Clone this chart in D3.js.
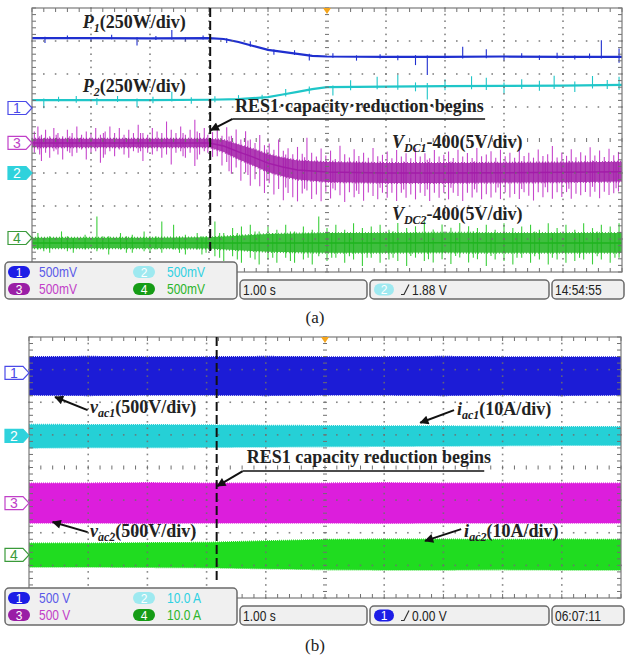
<!DOCTYPE html>
<html>
<head>
<meta charset="utf-8">
<script src="https://cdn.jsdelivr.net/npm/d3@7"></script>
<style>
  body { margin: 0; background: #fff; }
  svg { display: block; }
</style>
</head>
<body>
<div id="chart"></div>
<script>
// Two oscilloscope captures, time axis 1.00 s/div (10 div), vertical 8 div
var W = 629, H = 656;
var timeDomain = [0, 10];
var divDomain = [-4, 4];

// ---------- panel (a) data : time in s, level in divisions from screen centre ----------
var eventTimeA = 3.02;

var p1Time  = [0, 1, 2, 3, 3.25, 3.5, 3.75, 4, 4.25, 4.5, 4.75, 5, 6, 7, 8, 9, 10];
var p1Level = [3.09, 3.09, 3.08, 3.09, 3.06, 2.97, 2.85, 2.73, 2.67, 2.61, 2.55, 2.53, 2.52, 2.52, 2.53, 2.52, 2.52];
// spikes: [time, up, down] in divisions relative to the level
var p1Spikes = [[0.22,0.04,0.15],[0.6,0.08,0.04],[1.0,0.03,0.1],[1.35,0.1,0.03],[1.78,0.03,0.22],[2.1,0.07,0.05],
  [2.37,0.25,0.04],[2.6,0.03,0.1],[2.9,0.08,0.04],[3.3,0.04,0.1],[3.7,0.12,0.05],[4.1,0.04,0.12],[4.45,0.1,0.05],
  [4.7,0.05,0.15],[5.1,0.1,0.04],[5.5,0.04,0.12],[5.9,0.08,0.05],[6.2,0.04,0.1],[6.5,0.05,0.25],[6.7,0.04,0.55],
  [7.0,0.1,0.04],[7.3,0.3,0.05],[7.7,0.22,0.05],[8.0,0.04,0.12],[8.3,0.1,0.04],[8.6,0.04,0.1],[8.9,0.12,0.05],
  [9.2,0.04,0.08],[9.45,0.1,0.05],[9.65,0.5,0.05],[9.95,0.25,0.18]];

var p2Time  = [0, 1, 2, 3, 3.5, 4, 4.25, 4.5, 4.75, 5, 6, 7, 8, 9, 10];
var p2Level = [1.21, 1.21, 1.21, 1.22, 1.24, 1.30, 1.38, 1.46, 1.54, 1.60, 1.62, 1.63, 1.64, 1.65, 1.67];
var p2Spikes = [[0.2,0.05,0.25],[0.45,0.1,0.05],[0.75,0.12,0.08],[1.1,0.06,0.15],[1.45,0.12,0.06],[1.78,0.05,0.22],
  [2.05,0.1,0.1],[2.37,0.25,0.05],[2.7,0.08,0.12],[3.1,0.1,0.08],[3.5,0.12,0.1],[3.9,0.08,0.15],[4.3,0.15,0.08],
  [4.7,0.1,0.12],[5.1,0.05,0.25],[5.4,0.2,0.1],[5.85,0.3,0.08],[6.2,0.35,0.1],[6.5,0.12,0.15],[6.7,0.1,0.4],
  [7.0,0.2,0.12],[7.45,0.3,0.1],[7.7,0.25,0.12],[8.0,0.1,0.22],[8.3,0.2,0.1],[8.6,0.15,0.15],[8.85,0.3,0.1],
  [9.2,0.12,0.2],[9.5,0.28,0.1],[9.75,0.15,0.12],[9.95,0.25,0.15]];

var vdc1Time  = [0, 1, 2, 3, 3.25, 3.5, 3.75, 4, 4.25, 4.5, 5, 6, 7, 8, 9, 10];
var vdc1Level = [-0.09, -0.09, -0.09, -0.09, -0.18, -0.36, -0.52, -0.70, -0.82, -0.91, -0.97, -1.0, -1.0, -0.99, -0.98, -0.96];
var vdc1Band  = [0.13, 0.13, 0.13, 0.13, 0.18, 0.22, 0.25, 0.27, 0.28, 0.29, 0.3, 0.3, 0.3, 0.3, 0.3, 0.3];
var vdc1Spikes = [[0.04,0.35,0.3],[0.1,0.5,0.2],[0.13,0.2,0.35],[0.16,0.25,0.55],[0.23,0.4,0.3],[0.3,0.2,0.45],[0.37,0.45,0.25],
  [0.41,0.25,0.2],[0.44,0.3,0.35],[0.52,0.2,0.5],[0.6,0.4,0.25],[0.64,0.2,0.3],[0.68,0.3,0.4],[0.76,0.5,0.3],[0.84,0.25,0.2],[0.92,0.35,0.5],
  [1.0,0.3,0.3],[1.08,0.45,0.25],[1.16,0.25,0.6],[1.21,0.3,0.45],[1.24,0.35,0.35],[1.32,0.5,0.25],[1.4,0.3,0.4],[1.48,0.45,0.2],
  [1.56,0.25,0.35],[1.64,0.4,0.45],[1.72,0.3,0.25],[1.8,0.55,0.3],[1.84,0.3,0.25],[1.88,0.3,0.55],[1.96,0.25,0.3],[2.04,0.45,0.35],
  [2.12,0.35,0.25],[2.2,0.3,0.45],[2.28,0.65,0.35],[2.36,0.4,0.65],[2.44,0.3,0.3],[2.52,0.5,0.25],[2.56,0.3,0.4],[2.6,0.25,0.45],
  [2.68,0.4,0.3],[2.76,0.7,0.7],[2.8,0.35,0.5],[2.84,0.3,0.35],[2.92,0.45,0.25],[2.98,0.25,0.3],
  [3.06,0.35,0.4],[3.14,0.5,0.35],[3.22,0.3,0.6],[3.3,0.6,0.45],[3.34,0.35,0.7],[3.38,0.4,0.75],[3.46,0.65,0.5],[3.54,0.4,0.85],
  [3.62,0.7,0.55],[3.66,0.45,0.6],[3.7,0.5,0.9],[3.78,0.45,0.65],[3.86,0.75,0.8],[3.94,0.5,0.95],[3.98,0.4,0.55],[4.02,0.6,0.6],[4.1,0.45,0.9],
  [4.18,0.8,0.7],[4.26,0.5,1.0],[4.3,0.4,0.6],[4.34,0.6,0.75],[4.42,0.45,0.85],[4.5,0.7,0.95],[4.58,0.5,0.7],[4.62,0.4,0.55],[4.66,1.0,0.6],
  [4.74,0.55,0.85],[4.82,0.45,0.7],[4.9,0.7,0.9],[4.98,0.5,0.6],[5.06,0.65,0.8],[5.1,0.35,0.5],[5.14,0.4,0.55],[5.22,0.8,0.7],
  [5.3,0.55,0.9],[5.38,0.45,0.6],[5.46,0.7,0.75],[5.5,0.35,0.55],[5.54,0.5,0.65],[5.62,0.6,0.85],[5.7,0.45,0.6],[5.78,0.75,0.7],
  [5.86,0.5,0.8],[5.9,0.35,0.45],[5.94,0.55,0.6],[6.02,0.65,0.75],[6.1,0.45,0.6],[6.18,0.7,0.85],[6.26,0.5,0.6],[6.3,0.35,0.5],[6.34,0.6,0.75],
  [6.42,0.45,0.65],[6.5,0.75,0.8],[6.58,0.5,0.6],[6.66,0.6,0.7],[6.7,0.4,0.5],[6.74,0.45,0.85],[6.82,0.7,0.6],[6.9,0.5,0.75],
  [6.98,0.55,0.6],[7.06,0.65,0.8],[7.1,0.35,0.45],[7.14,0.45,0.6],[7.22,0.7,0.7],[7.3,0.5,0.85],[7.38,0.6,0.6],[7.46,0.45,0.75],
  [7.5,0.35,0.5],[7.54,0.75,0.6],[7.62,0.5,0.8],[7.7,0.55,0.65],[7.78,0.65,0.75],[7.86,0.45,0.6],[7.9,0.3,0.45],[7.94,0.7,0.8],[8.02,0.5,0.6],
  [8.1,0.6,0.75],[8.18,0.45,0.65],[8.26,0.75,0.8],[8.3,0.35,0.5],[8.34,0.5,0.6],[8.42,0.6,0.7],[8.5,0.45,0.85],[8.58,0.7,0.6],
  [8.66,0.5,0.75],[8.7,0.3,0.45],[8.74,0.55,0.6],[8.82,0.8,0.8],[8.9,0.45,0.6],[8.98,0.6,0.75],[9.06,0.5,0.6],[9.1,0.35,0.5],[9.14,0.7,0.8],
  [9.22,0.45,0.65],[9.3,0.6,0.7],[9.38,0.5,0.6],[9.46,0.75,0.75],[9.5,0.35,0.45],[9.54,0.5,0.6],[9.62,0.65,0.8],[9.7,0.45,0.6],
  [9.78,0.7,0.7],[9.86,0.5,0.65],[9.9,0.3,0.5],[9.94,0.6,0.6]];

var vdc2Time  = [0, 1, 2, 3, 3.5, 4, 5, 6, 7, 8, 9, 10];
var vdc2Level = [-3.12, -3.12, -3.12, -3.12, -3.12, -3.12, -3.12, -3.12, -3.11, -3.12, -3.12, -3.12];
var vdc2Band  = [0.16, 0.16, 0.16, 0.17, 0.22, 0.27, 0.3, 0.3, 0.3, 0.3, 0.3, 0.3];
var vdc2Spikes = [[0.1,0.3,0.2],[0.2,0.15,0.25],[0.3,0.2,0.3],[0.5,0.35,0.15],[0.6,0.2,0.25],[0.7,0.15,0.3],[0.9,0.25,0.2],[1.1,0.8,0.25],
  [1.2,0.2,0.2],[1.3,0.2,0.35],[1.5,0.3,0.2],[1.6,0.2,0.3],[1.7,0.25,0.3],[1.9,0.35,0.25],[2.0,0.2,0.3],[2.1,0.2,0.2],[2.2,0.65,0.3],[2.4,0.55,0.2],
  [2.5,0.2,0.3],[2.6,0.25,0.35],[2.8,0.3,0.2],[2.88,0.2,0.35],[2.95,0.2,0.3],
  [3.1,0.65,0.4],[3.18,0.3,0.45],[3.25,0.3,0.55],[3.4,0.45,0.4],[3.48,0.3,0.5],[3.55,0.5,0.6],[3.7,0.55,0.45],[3.78,0.35,0.5],[3.85,0.35,0.65],[4.0,0.5,0.5],
  [4.08,0.3,0.45],[4.15,0.4,0.6],[4.3,0.55,0.45],[4.38,0.35,0.55],[4.45,0.35,0.6],[4.6,0.5,0.5],[4.68,0.3,0.45],[4.75,0.4,0.65],[4.86,0.8,0.4],[5.0,0.45,0.55],
  [5.08,0.3,0.45],[5.15,0.55,0.45],[5.3,0.4,0.6],[5.38,0.3,0.4],[5.45,0.6,0.5],[5.6,0.45,0.7],[5.68,0.3,0.45],[5.75,0.5,0.45],[5.9,0.55,0.6],[6.05,0.4,0.5],
  [6.12,0.35,0.45],[6.2,0.6,0.55],[6.35,0.45,0.7],[6.42,0.3,0.4],[6.5,0.5,0.45],[6.65,0.65,0.55],[6.72,0.3,0.5],[6.8,0.4,0.6],[6.95,0.55,0.5],[7.1,0.45,0.65],
  [7.18,0.3,0.4],[7.25,0.6,0.45],[7.4,0.5,0.6],[7.48,0.35,0.45],[7.55,0.45,0.5],[7.7,0.55,0.7],[7.78,0.3,0.4],[7.85,0.4,0.5],[8.0,0.6,0.55],[8.15,0.45,0.65],
  [8.22,0.3,0.45],[8.3,0.5,0.45],[8.45,0.55,0.6],[8.52,0.35,0.4],[8.6,0.4,0.5],[8.75,0.6,0.65],[8.82,0.3,0.45],[8.9,0.45,0.5],[9.05,0.55,0.6],[9.2,0.4,0.55],
  [9.28,0.3,0.45],[9.35,0.6,0.5],[9.5,0.45,0.65],[9.58,0.35,0.4],[9.65,0.55,0.5],[9.8,0.5,0.6],[9.88,0.3,0.45],[9.95,0.6,0.45]];

var markerLevelsA = [0.97, -1.0, -0.09, -2.97]; // channel 1..4 ground markers
var scaleLabelsA = ["500mV", "500mV", "500mV", "500mV"];
var timebaseA = "1.00 s", triggerChA = 2, triggerLevelA = "1.88 V", clockA = "14:54:55";

// ---------- panel (b) data : envelopes of the AC waveforms ----------
var eventTimeB = 3.17;
var bTime = [0, 1, 2, 3, 4, 5, 6, 7, 8, 9, 10];
var vac1Top    = [3.39, 3.40, 3.39, 3.39, 3.40, 3.39, 3.39, 3.40, 3.39, 3.39, 3.39];
var vac1Bottom = [2.22, 2.21, 2.22, 2.22, 2.21, 2.22, 2.22, 2.21, 2.22, 2.21, 2.22];
var iac1Top    = [1.32, 1.31, 1.31, 1.30, 1.29, 1.28, 1.27, 1.27, 1.26, 1.25, 1.25];
var iac1Bottom = [0.60, 0.61, 0.61, 0.62, 0.63, 0.64, 0.65, 0.66, 0.67, 0.68, 0.68];
var vac2Top    = [-0.48, -0.48, -0.47, -0.48, -0.48, -0.48, -0.47, -0.48, -0.48, -0.48, -0.48];
var vac2Bottom = [-1.70, -1.70, -1.71, -1.70, -1.70, -1.70, -1.71, -1.70, -1.70, -1.70, -1.70];
var iac2Top    = [-2.32, -2.32, -2.31, -2.30, -2.25, -2.21, -2.20, -2.20, -2.21, -2.20, -2.21];
var iac2Bottom = [-3.05, -3.05, -3.06, -3.07, -3.10, -3.13, -3.14, -3.14, -3.13, -3.14, -3.14];

var markerLevelsB = [2.9, 0.97, -1.09, -2.68];
var scaleLabelsB = ["500 V", "10.0 A", "500 V", "10.0 A"];
var timebaseB = "1.00 s", triggerChB = 1, triggerLevelB = "0.00 V", clockB = "06:07:11";

// ---------- styles ----------
var badgeFill = { 1: "#1c1ce6", 2: "#9ee9f0", 3: "#9a1ea6", 4: "#169c16" };
var chanText  = { 1: "#5a5ae8", 2: "#2fd0e2", 3: "#c23ec8", 4: "#2bb52b" };
var markerColor = { 1: "#4a4ae8", 2: "#2fd2dc", 3: "#c040c8", 4: "#3a9a3a" };
var serif = "'Liberation Serif', 'Times New Roman', serif";
var sans = "'Liberation Sans', Arial, sans-serif";

var svg = d3.select("#chart").append("svg").attr("width", W).attr("height", H);
svg.append("rect").attr("width", W).attr("height", H).attr("fill", "#fff");

var defs = svg.append("defs");
defs.append("marker")
  .attr("id", "arrow")
  .attr("viewBox", "0 0 10 10")
  .attr("refX", 9).attr("refY", 5)
  .attr("markerWidth", 5.5).attr("markerHeight", 4.5)
  .attr("orient", "auto")
  .append("path").attr("d", "M0,0 L10,5 L0,10 z").attr("fill", "#111");

var panelA = { id: "a", left: 32, right: 622, top: 8, bottom: 272 };
var panelB = { id: "b", left: 29, right: 621, top: 337, bottom: 598 };

function scalesFor(p) {
  return {
    x: d3.scaleLinear().domain(timeDomain).range([p.left, p.right]),
    y: d3.scaleLinear().domain(divDomain).range([p.bottom, p.top])
  };
}
var sA = scalesFor(panelA), sB = scalesFor(panelB);

function clipFor(p) {
  defs.append("clipPath").attr("id", "clip-" + p.id)
    .append("rect").attr("x", p.left).attr("y", p.top)
    .attr("width", p.right - p.left).attr("height", p.bottom - p.top);
  return "url(#clip-" + p.id + ")";
}

// narrow scope font: regular sans squeezed horizontally
function condText(g, x, y, str, color, size) {
  return g.append("text")
    .attr("transform", "translate(" + x + "," + y + ") scale(0.8,1)")
    .attr("font-family", sans).attr("font-size", size || 14).attr("fill", color).text(str);
}

// graticule: dotted division lines, centre cross ticks, border ticks
function drawGrid(g, s) {
  var x = s.x, y = s.y;
  var minorT = d3.range(0, 10.001, 0.2);
  var minorD = d3.range(-4, 4.001, 0.2);
  var dots = [];
  [1, 2, 3, 4, 6, 7, 8, 9].forEach(function (t) {
    minorD.forEach(function (d) { dots.push([x(t), y(d)]); });
  });
  [-3, -2, -1, 1, 2, 3].forEach(function (d) {
    minorT.forEach(function (t) { dots.push([x(t), y(d)]); });
  });
  g.append("g").selectAll("rect").data(dots).enter().append("rect")
    .attr("x", function (d) { return d[0] - 0.8; })
    .attr("y", function (d) { return d[1] - 0.8; })
    .attr("width", 1.6).attr("height", 1.6)
    .attr("fill", "#6f6f6f").attr("opacity", 0.85);

  var ticks = g.append("g").attr("stroke", "#6f6f6f").attr("stroke-width", 1);
  minorD.forEach(function (d) {
    ticks.append("line").attr("x1", x(5) - 2).attr("x2", x(5) + 2).attr("y1", y(d)).attr("y2", y(d));
    ticks.append("line").attr("x1", x(0)).attr("x2", x(0) + 4).attr("y1", y(d)).attr("y2", y(d));
    ticks.append("line").attr("x1", x(10) - 4).attr("x2", x(10)).attr("y1", y(d)).attr("y2", y(d));
  });
  minorT.forEach(function (t) {
    ticks.append("line").attr("x1", x(t)).attr("x2", x(t)).attr("y1", y(0) - 2).attr("y2", y(0) + 2);
    ticks.append("line").attr("x1", x(t)).attr("x2", x(t)).attr("y1", y(4)).attr("y2", y(4) + 4);
    ticks.append("line").attr("x1", x(t)).attr("x2", x(t)).attr("y1", y(-4) - 4).attr("y2", y(-4));
  });
  g.append("rect")
    .attr("x", x(0)).attr("y", y(4))
    .attr("width", x(10) - x(0)).attr("height", y(-4) - y(4))
    .attr("fill", "none").attr("stroke", "#7a7a7a").attr("stroke-width", 1.2);
}

// one noisy trace: core band, thin line, spikes
function drawTrace(g, s, time, level, band, spikes, coreColor, spikeColor, lineWidth) {
  var levelAt = d3.scaleLinear().domain(time).range(level);
  var pts = time.map(function (t, i) { return { t: t, v: level[i], b: band ? band[i] : 0 }; });
  g.append("g").selectAll("line").data(spikes).enter().append("line")
    .attr("x1", function (d) { return s.x(d[0]); })
    .attr("x2", function (d) { return s.x(d[0]); })
    .attr("y1", function (d) { return s.y(levelAt(d[0]) + d[1]); })
    .attr("y2", function (d) { return s.y(levelAt(d[0]) - d[2]); })
    .attr("stroke", spikeColor).attr("stroke-width", 1.1);
  if (band) {
    g.append("path").datum(pts)
      .attr("d", d3.area()
        .x(function (d) { return s.x(d.t); })
        .y0(function (d) { return s.y(d.v - d.b); })
        .y1(function (d) { return s.y(d.v + d.b); }))
      .attr("fill", coreColor).attr("opacity", 0.85)
      .attr("stroke", coreColor).attr("stroke-width", 2).attr("stroke-dasharray", "1,2");
  }
  g.append("path").datum(pts)
    .attr("d", d3.line().x(function (d) { return s.x(d.t); }).y(function (d) { return s.y(d.v); }))
    .attr("fill", "none").attr("stroke", coreColor).attr("stroke-width", lineWidth);
}

function drawBand(g, s, top, bottom, color) {
  var pts = bTime.map(function (t, i) { return { t: t, hi: top[i], lo: bottom[i] }; });
  g.append("path").datum(pts)
    .attr("d", d3.area()
      .x(function (d) { return s.x(d.t); })
      .y0(function (d) { return s.y(d.lo); })
      .y1(function (d) { return s.y(d.hi); }))
    .attr("fill", color).attr("stroke", color).attr("stroke-width", 1.5).attr("stroke-dasharray", "1,1");
}

// channel ground markers on the left edge
function drawMarkers(g, s, levels) {
  levels.forEach(function (lv, i) {
    var ch = i + 1, r = s.x(0), yy = s.y(lv), l = r - 24;
    var filled = ch === 2;
    g.append("path")
      .attr("d", "M" + l + "," + (yy - 6.5) + "H" + (r - 6) + "L" + r + "," + yy + "L" + (r - 6) + "," + (yy + 6.5) + "H" + l + "Z")
      .attr("fill", filled ? markerColor[ch] : "#fff")
      .attr("stroke", markerColor[ch]).attr("stroke-width", 1.2);
    g.append("text").attr("x", l + 9).attr("y", yy + 5)
      .attr("text-anchor", "middle").attr("font-family", sans).attr("font-size", 14)
      .attr("fill", filled ? "#fff" : markerColor[ch]).text(ch);
  });
  // trigger position marker
  var tx = s.x(5), ty = s.y(4);
  g.append("path").attr("d", "M" + (tx - 4) + "," + ty + "H" + (tx + 4) + "L" + tx + "," + (ty + 6) + "Z")
    .attr("fill", "#f4a51c");
}

function badge(g, x, yc, w, ch) {
  g.append("rect").attr("x", x).attr("y", yc - 6).attr("width", w).attr("height", 12).attr("rx", 6)
    .attr("fill", badgeFill[ch]);
  g.append("text").attr("x", x + w / 2).attr("y", yc + 4.5).attr("text-anchor", "middle")
    .attr("font-family", sans).attr("font-size", 12).attr("fill", "#fff").text(ch);
}

function drawStatus(g, p, labels, trigCh, trigLevel, timebase, clock) {
  var top = p.bottom - 10, bottom = top + 37, top2 = p.bottom + 8;
  var boxStyle = function (sel) {
    return sel.attr("fill", "#f0f0f0").attr("stroke", "#6a6a6a").attr("stroke-width", 1.5).attr("rx", 4);
  };
  boxStyle(g.append("rect").attr("x", 5).attr("y", top).attr("width", 232).attr("height", bottom - top));
  var cells = [[8, 39, top + 10], [133, 167, top + 10], [8, 39, top + 27], [133, 167, top + 27]];
  labels.forEach(function (lab, i) {
    var c = cells[i];
    badge(g, c[0], c[2], 22, i + 1);
    condText(g, c[1], c[2] + 5, lab, chanText[i + 1], 15);
  });
  var mid = (top2 + bottom) / 2;
  boxStyle(g.append("rect").attr("x", 240).attr("y", top2).attr("width", 127).attr("height", bottom - top2));
  condText(g, 243, mid + 5, timebase, "#222", 15);
  boxStyle(g.append("rect").attr("x", 370).attr("y", top2).attr("width", 179).attr("height", bottom - top2));
  badge(g, 374, mid, 20, trigCh);
  g.append("path").attr("d", "M401," + (mid + 5) + "H404L409," + (mid - 5))
    .attr("fill", "none").attr("stroke", "#333").attr("stroke-width", 1.2);
  condText(g, 412, mid + 5, trigLevel, "#222", 15);
  boxStyle(g.append("rect").attr("x", 552).attr("y", top2).attr("width", 72).attr("height", bottom - top2));
  condText(g, 555, mid + 5, clock, "#222", 15);
}

// bold serif label with italic symbol and subscript
function label(g, x, y, sym, sub, rest, size) {
  var t = g.append("text").attr("x", x).attr("y", y)
    .attr("font-family", serif).attr("font-weight", "bold").attr("font-size", size || 18).attr("fill", "#222");
  if (sym) {
    t.append("tspan").attr("font-style", "italic").text(sym);
    t.append("tspan").attr("font-style", "italic").attr("font-size", 12).attr("dy", 4).text(sub);
    t.append("tspan").attr("dy", -4).text(rest);
  } else {
    t.text(rest);
  }
  return t;
}

function arrow(g, x1, y1, x2, y2) {
  g.append("line").attr("x1", x1).attr("y1", y1).attr("x2", x2).attr("y2", y2)
    .attr("stroke", "#111").attr("stroke-width", 2).attr("marker-end", "url(#arrow)");
}

function eventLine(g, s, t, endDiv) {
  g.append("line").attr("x1", s.x(t)).attr("x2", s.x(t)).attr("y1", s.y(4)).attr("y2", s.y(endDiv))
    .attr("stroke", "#111").attr("stroke-width", 2).attr("stroke-dasharray", "9,4");
}

// ================= panel (a) =================
var gA = svg.append("g");
var tracesA = gA.append("g").attr("clip-path", clipFor(panelA));
drawTrace(tracesA, sA, vdc2Time, vdc2Level, vdc2Band, vdc2Spikes, "#1eb41e", "#3ccf3c", 1.5);
drawTrace(tracesA, sA, vdc1Time, vdc1Level, vdc1Band, vdc1Spikes, "#a21ca8", "#c646cc", 1.5);
drawTrace(tracesA, sA, p2Time, p2Level, null, p2Spikes, "#1fc6c8", "#1fc6c8", 2.2);
drawTrace(tracesA, sA, p1Time, p1Level, null, p1Spikes, "#1f2fcf", "#1f2fcf", 2.2);
drawGrid(gA, sA);
eventLine(gA, sA, eventTimeA, -3.48);
drawMarkers(gA, sA, markerLevelsA);

label(gA, sA.x(0.86), sA.y(3.39), "P", "1", "(250W/div)");
label(gA, sA.x(0.86), sA.y(1.45), "P", "2", "(250W/div)");
label(gA, sA.x(3.44), sA.y(0.85), null, null, "RES1\u00b7capacity\u00b7reduction\u00b7begins");
gA.append("line").attr("x1", sA.x(3.4)).attr("x2", sA.x(7.68)).attr("y1", sA.y(0.64)).attr("y2", sA.y(0.64))
  .attr("stroke", "#111").attr("stroke-width", 1.5);
arrow(gA, sA.x(3.4), sA.y(0.64), sA.x(3.03), sA.y(0.3));
label(gA, sA.x(6.1), sA.y(-0.24), "V", "DC1", "-400(5V/div)");
label(gA, sA.x(6.1), sA.y(-2.42), "V", "DC2", "-400(5V/div)");

drawStatus(gA, panelA, scaleLabelsA, triggerChA, triggerLevelA, timebaseA, clockA);
svg.append("text").attr("x", 315).attr("y", 323).attr("text-anchor", "middle")
  .attr("font-family", serif).attr("font-size", 17).attr("fill", "#222").text("(a)");

// ================= panel (b) =================
var gB = svg.append("g");
var tracesB = gB.append("g").attr("clip-path", clipFor(panelB));
drawBand(tracesB, sB, vac1Top, vac1Bottom, "#1c1cd6");
drawBand(tracesB, sB, iac1Top, iac1Bottom, "#25d0d6");
drawBand(tracesB, sB, vac2Top, vac2Bottom, "#dc1edc");
drawBand(tracesB, sB, iac2Top, iac2Bottom, "#20dc20");
drawGrid(gB, sB);
eventLine(gB, sB, eventTimeB, -3.45);
drawMarkers(gB, sB, markerLevelsB);

label(gB, sB.x(1.03), sB.y(1.67), "v", "ac1", "(500V/div)");
arrow(gB, sB.x(0.99), sB.y(1.76), sB.x(0.44), sB.y(2.16));
label(gB, sB.x(7.23), sB.y(1.61), "i", "ac1", "(10A/div)");
arrow(gB, sB.x(7.18), sB.y(1.76), sB.x(6.61), sB.y(1.37));
label(gB, sB.x(3.68), sB.y(0.14), null, null, "RES1 capacity reduction begins");
gB.append("line").attr("x1", sB.x(3.61)).attr("x2", sB.x(7.69)).attr("y1", sB.y(-0.11)).attr("y2", sB.y(-0.11))
  .attr("stroke", "#111").attr("stroke-width", 1.5);
arrow(gB, sB.x(3.61), sB.y(-0.11), sB.x(3.18), sB.y(-0.57));
label(gB, sB.x(1.03), sB.y(-2.13), "v", "ac2", "(500V/div)");
arrow(gB, sB.x(0.99), sB.y(-1.98), sB.x(0.4), sB.y(-1.67));
label(gB, sB.x(7.35), sB.y(-2.13), "i", "ac2", "(10A/div)");
arrow(gB, sB.x(7.3), sB.y(-1.89), sB.x(6.69), sB.y(-2.25));

drawStatus(gB, panelB, scaleLabelsB, triggerChB, triggerLevelB, timebaseB, clockB);
svg.append("text").attr("x", 315).attr("y", 651).attr("text-anchor", "middle")
  .attr("font-family", serif).attr("font-size", 17).attr("fill", "#222").text("(b)");
</script>
</body>
</html>
